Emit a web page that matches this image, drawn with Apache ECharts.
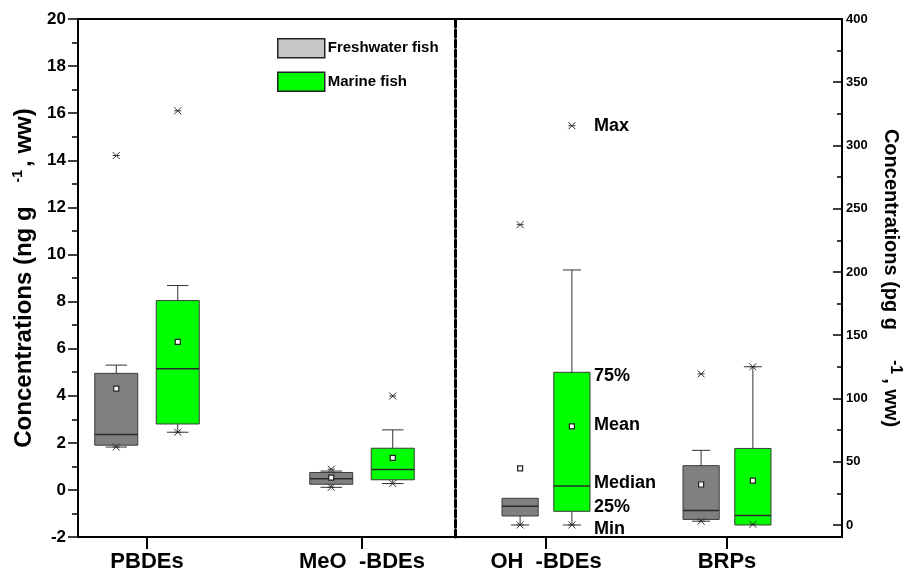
<!DOCTYPE html>
<html><head><meta charset="utf-8">
<script src="https://cdn.jsdelivr.net/npm/echarts@6/dist/echarts.min.js"></script>
<style>html,body{margin:0;padding:0;background:#fff}#c{width:912px;height:581px}</style>
</head><body><div id="c"></div>
<script>
// ---- data ----
const leftCategories = ['PBDEs', 'MeO  -BDEs'];          // ng/g ww (left axis)
const rightCategories = ['OH  -BDEs', 'BRPs'];           // pg/g ww (right axis)
const seriesNames = ['Freshwater fish', 'Marine fish'];
const rightTickLabels = [0, 50, 100, 150, 200, 250, 300, 350, 400];
const rightMinorTicks = [25, 75, 125, 175, 225, 275, 325, 375];

// order: PBDEs, MeO-BDEs, OH-BDEs, BRPs
const freshMin          = [1.82, 0.11, 0.0, 3.0];
const freshLowWhisker   = [1.82, 0.11, 0.0, 3.0];
const freshQ1           = [1.90, 0.24, 7.1, 4.4];
const freshMedian       = [2.35, 0.47, 14.8, 11.5];
const freshQ3           = [4.95, 0.74, 21.1, 46.9];
const freshHighWhisker  = [5.30, 0.80, 21.1, 59.0];
const freshMax          = [14.2, 0.88, 237.4, 119.4];
const freshMean         = [4.30, 0.52, 44.8, 32.0];

const marineMin         = [2.45, 0.27, 0.0, 0.5];
const marineLowWhisker  = [2.45, 0.27, 0.0, 0.5];
const marineQ1          = [2.80, 0.43, 10.8, 0.0];
const marineMedian      = [5.15, 0.87, 30.8, 7.5];
const marineQ3          = [8.04, 1.77, 120.7, 60.5];
const marineHighWhisker = [8.68, 2.55, 201.6, 125.1];
const marineMax         = [16.1, 3.99, 315.6, 125.1];
const marineMean        = [6.29, 1.36, 78.0, 35.0];

const annotationLabels = ['Max', '75%', 'Mean', 'Median', '25%', 'Min'];
const annotatedGroup = 2; // OH-BDEs, marine fish

// ---- build ----
function rows(stats, from, to) {
  const out = [];
  for (let i = from; i < to; i++) {
    out.push([i - from, stats[0][i], stats[1][i], stats[2][i], stats[3][i], stats[4][i], stats[5][i], stats[6][i], stats[7][i]]);
  }
  return out;
}
const freshStats = [freshMin, freshLowWhisker, freshQ1, freshMedian, freshQ3, freshHighWhisker, freshMax, freshMean];
const marineStats = [marineMin, marineLowWhisker, marineQ1, marineMedian, marineQ3, marineHighWhisker, marineMax, marineMean];

const FONT = '"Liberation Sans", Arial, sans-serif';
const LINE = '#333';

function star(cx, cy) {
  const s = 3.5;
  const st = { stroke: LINE, lineWidth: 1 };
  return [
    { type: 'line', shape: { x1: cx - s, y1: cy - s, x2: cx + s, y2: cy + s }, style: st },
    { type: 'line', shape: { x1: cx - s, y1: cy + s, x2: cx + s, y2: cy - s }, style: st },
    { type: 'line', shape: { x1: cx - s, y1: cy, x2: cx + s, y2: cy }, style: st }
  ];
}

function boxRenderer(side, fill) {
  return function (params, api) {
    const cat = api.value(0);
    const band = api.size([1, 0])[0];
    const cx = api.coord([cat, 0])[0] + side * 0.143 * band;
    const w = 0.2 * band, cap = w / 2;
    const Y = (i) => api.coord([cat, api.value(i)])[1];
    const yMin = Y(1), yLow = Y(2), yQ1 = Y(3), yMed = Y(4), yQ3 = Y(5), yHigh = Y(6), yMax = Y(7), yMean = Y(8);
    const ch = [];
    const ws = { stroke: LINE, lineWidth: 1 };
    if (yHigh < yQ3 - 0.5) {
      ch.push({ type: 'line', shape: { x1: cx, y1: yQ3, x2: cx, y2: yHigh }, style: ws });
      ch.push({ type: 'line', shape: { x1: cx - cap / 2, y1: yHigh, x2: cx + cap / 2, y2: yHigh }, style: ws });
    }
    if (yLow > yQ1 + 0.5) {
      ch.push({ type: 'line', shape: { x1: cx, y1: yQ1, x2: cx, y2: yLow }, style: ws });
      ch.push({ type: 'line', shape: { x1: cx - cap / 2, y1: yLow, x2: cx + cap / 2, y2: yLow }, style: ws });
    }
    ch.push({ type: 'rect', shape: { x: cx - w / 2, y: yQ3, width: w, height: yQ1 - yQ3 },
      style: { fill: fill, stroke: '#3a3a3a', lineWidth: 1 } });
    ch.push({ type: 'line', shape: { x1: cx - w / 2, y1: yMed, x2: cx + w / 2, y2: yMed },
      style: { stroke: '#2a2a2a', lineWidth: 1.5 } });
    ch.push({ type: 'rect', shape: { x: cx - 2.5, y: yMean - 2.5, width: 5, height: 5 },
      style: { fill: '#fff', stroke: '#222', lineWidth: 1.2 } });
    star(cx, yMax).forEach(e => ch.push(e));
    star(cx, yMin).forEach(e => ch.push(e));
    return { type: 'group', children: ch };
  };
}

const nudges = [0, 4, -1, -3, -4, 4];
function annotationRenderer(params, api) {
  const cat = api.value(0);
  const band = api.size([1, 0])[0];
  const x = api.coord([cat, 0])[0] + 0.143 * band + 0.1 * band + 4;
  const y = api.coord([cat, api.value(1)])[1] + nudges[params.dataIndex];
  return { type: 'text', x: x, y: y,
    style: { text: annotationLabels[params.dataIndex], fill: '#000', font: 'bold 18px ' + FONT,
      align: 'left', verticalAlign: 'middle' } };
}
const annoValues = [marineMax, marineQ3, marineMean, marineMedian, marineQ1, marineMin]
  .map(a => [annotatedGroup - 2, a[annotatedGroup]]);

const dims = ['x', 'min', 'low', 'q1', 'med', 'q3', 'high', 'max', 'mean'];
const enc = { x: 0, y: [1, 2, 3, 4, 5, 6, 7, 8] };

const chart = echarts.init(document.getElementById('c'), null, { renderer: 'canvas' });
const axisBlack = { color: '#000', width: 2 };
const RIGHT_MIN = -9.5;

chart.setOption({
  backgroundColor: '#fff',
  animation: false,
  textStyle: { fontFamily: FONT },
  legend: {
    orient: 'vertical', left: 277, top: 38, padding: 0, itemGap: 13,
    itemWidth: 47, itemHeight: 19, icon: 'rect',
    itemStyle: { borderColor: '#222', borderWidth: 1.5 },
    textStyle: { fontFamily: '"Liberation Sans Narrow", "Liberation Sans", Arial', fontWeight: 'bold', fontSize: 15, color: '#000', padding: [0, 0, 0, -2] },
    data: [
      { name: seriesNames[0], itemStyle: { color: '#c6c6c6' } },
      { name: seriesNames[1], itemStyle: { color: '#00ff00' } }
    ]
  },
  grid: [
    { left: 78, right: 70, top: 19, bottom: 44 },          // frame
    { left: 39.5, width: 430, top: 19, bottom: 44 },      // left panel
    { left: 455.5, width: 362, top: 19, bottom: 44 }      // right panel
  ],
  xAxis: [
    { gridIndex: 0, type: 'value', min: 0, max: 1, position: 'bottom',
      axisLine: { onZero: false, lineStyle: axisBlack }, axisTick: { show: false }, axisLabel: { show: false }, splitLine: { show: false } },
    { gridIndex: 0, type: 'value', min: 0, max: 1, position: 'top',
      axisLine: { onZero: false, lineStyle: axisBlack }, axisTick: { show: false }, axisLabel: { show: false }, splitLine: { show: false } },
    { gridIndex: 1, type: 'category', data: leftCategories, position: 'bottom',
      axisLine: { show: false, onZero: false }, axisTick: { show: true, alignWithLabel: true, length: 12, lineStyle: { color: '#000', width: 2 } },
      axisLabel: { fontSize: 22, fontWeight: 'bold', color: '#000', margin: 14 }, splitLine: { show: false } },
    { gridIndex: 2, type: 'category', data: rightCategories, position: 'bottom',
      axisLine: { show: false, onZero: false }, axisTick: { show: true, alignWithLabel: true, length: 12, lineStyle: { color: '#000', width: 2 } },
      axisLabel: { fontSize: 22, fontWeight: 'bold', color: '#000', margin: 14 }, splitLine: { show: false } }
  ],
  yAxis: [
    { gridIndex: 0, type: 'value', min: -2, max: 20, interval: 2, position: 'left',
      name: 'Concentrations (ng g{sup|-1}, ww)', nameLocation: 'middle', nameGap: 39,
      nameTextStyle: { fontSize: 24, fontWeight: 'bold', color: '#000',
        rich: { sup: { fontSize: 14, fontWeight: 'bold', verticalAlign: 'top', lineHeight: 27, padding: [0, 3, 0, 24] } } },
      axisLine: { onZero: false, lineStyle: axisBlack },
      axisTick: { length: 10, lineStyle: { color: '#000', width: 1.5 } },
      minorTick: { show: true, splitNumber: 2, length: 6, lineStyle: { color: '#000', width: 1.5 } },
      axisLabel: { fontSize: 17, fontWeight: 'bold', color: '#000', margin: 12 },
      splitLine: { show: false } },
    { gridIndex: 0, type: 'value', min: RIGHT_MIN, max: 400, position: 'right',
      name: 'Concentrations (pg g{sup|-1}, ww)', nameLocation: 'middle', nameGap: 36, nameRotate: -90,
      nameTextStyle: { fontSize: 20, fontWeight: 'bold', color: '#000',
        rich: { sup: { fontSize: 16, fontWeight: 'bold', verticalAlign: 'top', lineHeight: 25, padding: [0, 4, 0, 30] } } },
      axisLine: { onZero: false, lineStyle: axisBlack },
      axisTick: { inside: true, length: 9, customValues: rightTickLabels, lineStyle: { color: '#000', width: 1.5 } },
      axisLabel: { fontSize: 13, fontWeight: 'bold', color: '#000', margin: 4, customValues: rightTickLabels },
      splitLine: { show: false } },
    { gridIndex: 0, type: 'value', min: RIGHT_MIN, max: 400, position: 'right',
      axisLine: { show: false, onZero: false },
      axisTick: { inside: true, length: 5, customValues: rightMinorTicks, lineStyle: { color: '#000', width: 1.5 } },
      axisLabel: { show: false }, splitLine: { show: false } },
    { gridIndex: 1, type: 'value', min: -2, max: 20, show: false, axisLine: { onZero: false } },
    { gridIndex: 2, type: 'value', min: RIGHT_MIN, max: 400, position: 'left',
      axisLine: { show: true, onZero: false, lineStyle: { color: '#000', width: 3, type: [7, 3] } },
      axisTick: { show: false }, axisLabel: { show: false }, splitLine: { show: false } }
  ],
  series: [
    { name: seriesNames[0], type: 'custom', xAxisIndex: 2, yAxisIndex: 3, dimensions: dims, encode: enc,
      itemStyle: { color: '#808080' }, renderItem: boxRenderer(-1, '#808080'), data: rows(freshStats, 0, 2), z: 5 },
    { name: seriesNames[1], type: 'custom', xAxisIndex: 2, yAxisIndex: 3, dimensions: dims, encode: enc,
      itemStyle: { color: '#00ff00' }, renderItem: boxRenderer(1, '#00ff00'), data: rows(marineStats, 0, 2), z: 5 },
    { name: seriesNames[0], type: 'custom', xAxisIndex: 3, yAxisIndex: 4, dimensions: dims, encode: enc,
      itemStyle: { color: '#808080' }, renderItem: boxRenderer(-1, '#808080'), data: rows(freshStats, 2, 4), z: 5 },
    { name: seriesNames[1], type: 'custom', xAxisIndex: 3, yAxisIndex: 4, dimensions: dims, encode: enc,
      itemStyle: { color: '#00ff00' }, renderItem: boxRenderer(1, '#00ff00'), data: rows(marineStats, 2, 4), z: 5 },
    { name: 'annotations', type: 'custom', xAxisIndex: 3, yAxisIndex: 4, encode: { x: 0, y: 1 },
      renderItem: annotationRenderer, data: annoValues, z: 6, silent: true }
  ]
});
</script>
</body></html>
